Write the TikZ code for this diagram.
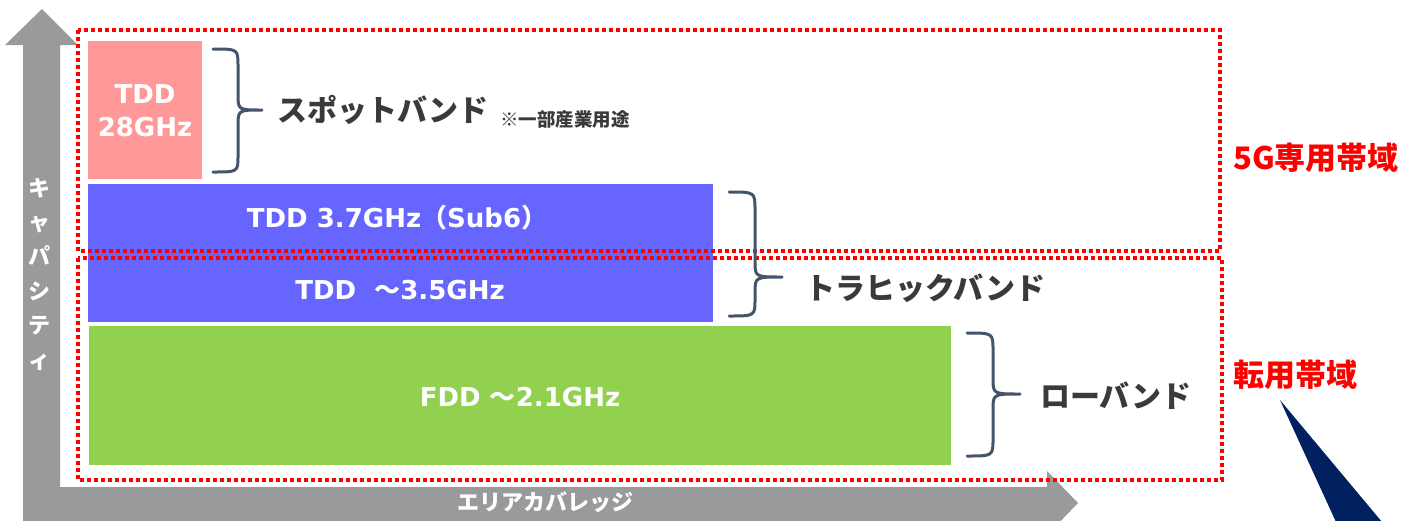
\documentclass[tikz,border=0pt]{standalone}
\usepackage{fontspec}
\setmainfont{DejaVu Sans}
\newfontfamily\jp{Noto Sans CJK JP}
\definecolor{axisgray}{HTML}{9A9A9A}
\definecolor{pinkband}{HTML}{FF9999}
\definecolor{blueband}{HTML}{6666FF}
\definecolor{greenband}{HTML}{92D050}
\definecolor{bracecol}{HTML}{44546A}
\definecolor{labelgray}{HTML}{3A3A3A}
\definecolor{navy}{HTML}{002060}
\begin{document}
\begin{tikzpicture}[x=1pt,y=-1pt,
  bandbox/.style={draw=none, inner sep=0pt, anchor=north west},
  bandtext/.style={text=white, font=\bfseries\fontsize{26}{33}\selectfont, align=center, inner sep=0pt},
  bracepath/.style={draw=bracecol, line width=3pt, line cap=round, line join=round},
  biglabel/.style={text=labelgray, font=\jp\bfseries\fontsize{30}{36}\selectfont, anchor=west, inner sep=0pt},
  redlabel/.style={text=red, font=\jp\bfseries\fontsize{31}{36}\selectfont, anchor=west, inner sep=0pt},
  dotbox/.style={draw=red, line width=3.4pt, dash pattern=on 3.6pt off 3.4pt}
]
\useasboundingbox (0,0) rectangle (1420,520);
\clip (0,0) rectangle (1420,520);
\fill[white] (0,0) rectangle (1420,520);

% axes (L-shaped double arrow)
\fill[axisgray] (23,522) -- (23,45) -- (5,45) -- (42,9) -- (78,45) -- (60,45) -- (60,487)
  -- (1047,487) -- (1047,471) -- (1078,503) -- (1047,535) -- (1047,522) -- cycle;
\node[text=white, font=\jp\bfseries\fontsize{22}{26}\selectfont, inner sep=0pt] (xlabel) at (545,502) {エリアカバレッジ};
\node[text=white, font=\jp\bfseries\fontsize{22}{34.4}\selectfont, align=center, inner sep=0pt] (ylabel) at (39,274) {キ\\ャ\\パ\\シ\\テ\\ィ};

% bands
\node[bandbox, fill=pinkband, minimum width=114pt, minimum height=138pt] (pink) at (88,41) {};
\node[bandbox, fill=blueband, minimum width=625pt, minimum height=138pt] (blue) at (88,184) {};
\node[bandbox, fill=greenband, minimum width=862pt, minimum height=139pt] (green) at (89,326) {};

\node[bandtext] (t28) at (145,111) {TDD\\28GHz};
\node[bandtext] (t37) at (397,218) {TDD 3.7GHz{\jp （}Sub6{\jp ）}};
\node[bandtext] (t35) at (400,290) {TDD\ \ {\jp ～}3.5GHz};
\node[bandtext] (t21) at (520,397) {FDD {\jp ～}2.1GHz};

% red dotted regions
\draw[dotbox] (78,30) rectangle (1220,251);
\draw[dotbox] (78,258) rectangle (1222,480);

% braces
\draw[bracepath] (213,49) .. controls (238,49) .. (238,66) -- (238,94) .. controls (238,110) .. (262,110)
  .. controls (238,110) .. (238,126) -- (238,156) .. controls (238,172) .. (213,172);
\draw[bracepath] (729,192) .. controls (755,192) .. (755,210) -- (755,261) .. controls (755,277) .. (782,277)
  .. controls (755,277) .. (755,293) -- (755,299) .. controls (755,316) .. (729,316);
\draw[bracepath] (967,333) .. controls (993,333) .. (993,350) -- (993,378) .. controls (993,394) .. (1020,394)
  .. controls (993,394) .. (993,410) -- (993,439) .. controls (993,456) .. (967,456);

% labels
\node[biglabel] (spot) at (277,110) {スポットバンド};
\node[text=labelgray, font=\jp\bfseries\fontsize{18.5}{22}\selectfont, anchor=west, inner sep=0pt] (note) at (500,120) {※一部産業用途};
\node[biglabel] (traffic) at (805,288) {トラヒックバンド};
\node[biglabel] (low) at (1040,396) {ローバンド};
\node[redlabel] (dedicated) at (1233,158) {5G専用帯域};
\node[redlabel] (converted) at (1233,375) {転用帯域};

% navy wedge
\fill[navy] (1280,400) -- (1336,522) -- (1382,522) -- cycle;
\end{tikzpicture}
\end{document}
